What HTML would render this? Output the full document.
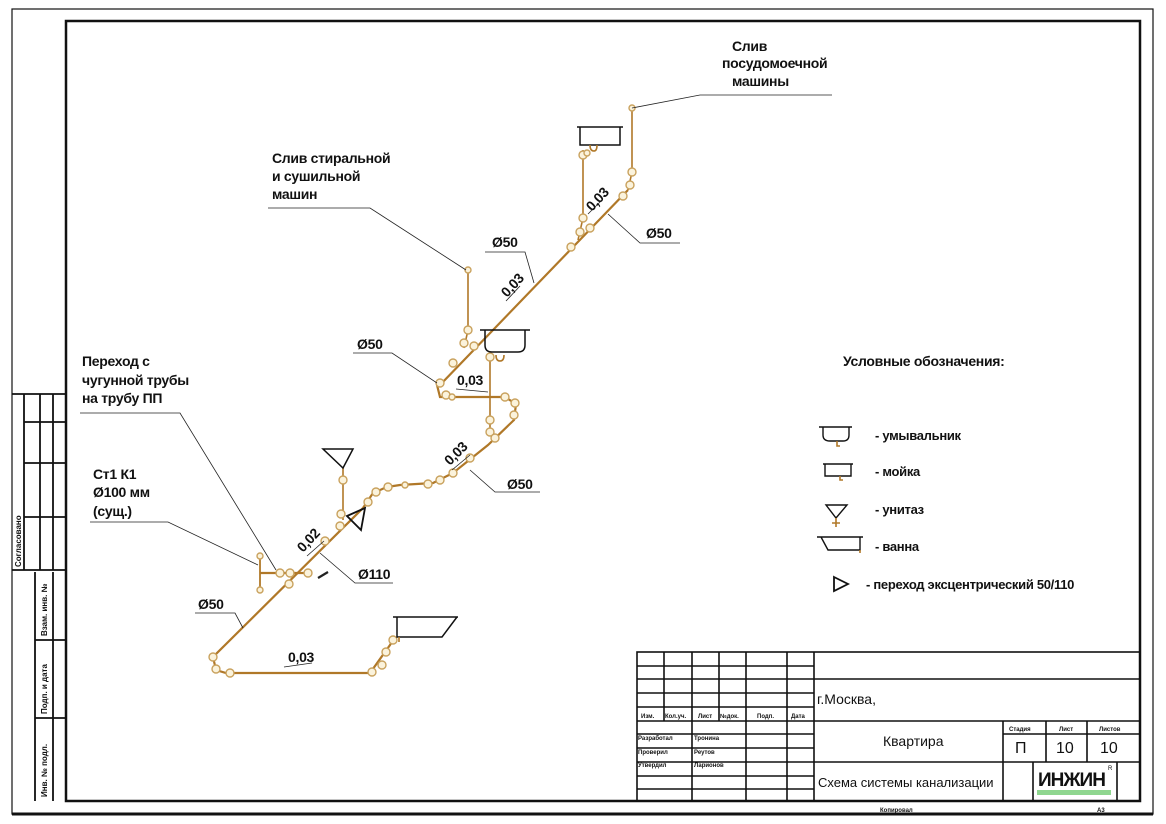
<!DOCTYPE html>
<html><head><meta charset="utf-8"><style>
html,body{margin:0;padding:0;background:#fff}
svg{display:block}
text{font-family:"Liberation Sans",sans-serif;fill:#111}
.l{font-size:14px;font-weight:bold;letter-spacing:-0.3px}
.s{font-size:6px;font-weight:bold}
.p{stroke:#b07828;stroke-width:2.2;fill:none}
.pt{stroke:#b07828;stroke-width:1.6;fill:none}
.f{fill:#fbf3dc;stroke:#c9a25e;stroke-width:1.4}
.ld{stroke:#222;stroke-width:0.8;fill:none}
.k{stroke:#111;fill:none}
</style></head><body>
<svg width="1166" height="824" viewBox="0 0 1166 824" xmlns="http://www.w3.org/2000/svg">
<rect x="12" y="9" width="1141" height="805" fill="none" stroke="#111" stroke-width="1.2"/>
<line x1="12" y1="814" x2="1153" y2="814" stroke="#111" stroke-width="3"/>
<rect x="66" y="21" width="1074" height="780" fill="none" stroke="#111" stroke-width="2.5"/>

<g class="k" stroke-width="1.8">
<line x1="12" y1="394" x2="66" y2="394"/>
<line x1="24" y1="394" x2="24" y2="570"/>
<line x1="40" y1="394" x2="40" y2="570"/>
<line x1="53" y1="394" x2="53" y2="570"/>
<line x1="24" y1="422" x2="66" y2="422"/>
<line x1="24" y1="463" x2="66" y2="463"/>
<line x1="24" y1="517" x2="66" y2="517"/>
<line x1="12" y1="570" x2="66" y2="570"/>
<line x1="35" y1="572" x2="35" y2="801"/>
<line x1="53" y1="572" x2="53" y2="801"/>
<line x1="35" y1="640" x2="66" y2="640"/>
<line x1="35" y1="718" x2="66" y2="718"/>
</g>
<text class="s" style="font-size:8px" transform="translate(21,567) rotate(-90)">Согласовано</text>
<text class="s" style="font-size:8px" transform="translate(47,636) rotate(-90)">Взам. инв. №</text>
<text class="s" style="font-size:8px" transform="translate(47,714) rotate(-90)">Подп. и дата</text>
<text class="s" style="font-size:8px" transform="translate(47,797) rotate(-90)">Инв. № подл.</text>

<g class="k" stroke-width="1.6">
<rect x="637" y="652" width="503" height="149"/>
<line x1="664" y1="652" x2="664" y2="721"/>
<line x1="692" y1="652" x2="692" y2="801"/>
<line x1="719" y1="652" x2="719" y2="721"/>
<line x1="746" y1="652" x2="746" y2="801"/>
<line x1="787" y1="652" x2="787" y2="801"/>
<line x1="814" y1="652" x2="814" y2="801"/>
<line x1="637" y1="666" x2="814" y2="666"/>
<line x1="637" y1="679" x2="1140" y2="679"/>
<line x1="637" y1="693" x2="814" y2="693"/>
<line x1="637" y1="707" x2="814" y2="707"/>
<line x1="637" y1="721" x2="1140" y2="721"/>
<line x1="637" y1="734" x2="814" y2="734"/>
<line x1="637" y1="748" x2="814" y2="748"/>
<line x1="637" y1="762" x2="1140" y2="762"/>
<line x1="637" y1="776" x2="814" y2="776"/>
<line x1="637" y1="789" x2="814" y2="789"/>
<line x1="1003" y1="721" x2="1003" y2="801"/>
<line x1="1046" y1="721" x2="1046" y2="762"/>
<line x1="1087" y1="721" x2="1087" y2="762"/>
<line x1="1003" y1="734" x2="1140" y2="734"/>
<line x1="1033" y1="762" x2="1033" y2="801"/>
<line x1="1117" y1="762" x2="1117" y2="801"/>
</g>
<g class="s">
<text x="641" y="718">Изм.</text><text x="665" y="718">Кол.уч.</text><text x="698" y="718">Лист</text><text x="720" y="718">№док.</text><text x="757" y="718">Подп.</text><text x="791" y="718">Дата</text>
<text x="638" y="740">Разработал</text><text x="694" y="740">Тронина</text>
<text x="638" y="754">Проверил</text><text x="694" y="754">Реутов</text>
<text x="638" y="767">Утвердил</text><text x="694" y="767">Ларионов</text>
<text x="1009" y="731">Стадия</text><text x="1059" y="731">Лист</text><text x="1099" y="731">Листов</text>
<text x="880" y="812">Копировал</text><text x="1097" y="812">А3</text>
</g>
<text x="817" y="704" style="font-size:14px">г.Москва,</text>
<text x="883" y="746" style="font-size:14px">Квартира</text>
<text x="818" y="787" style="font-size:13px">Схема системы канализации</text>
<text x="1015" y="753" style="font-size:16px">П</text>
<text x="1056" y="753" style="font-size:16px">10</text>
<text x="1100" y="753" style="font-size:16px">10</text>
<text x="1038" y="786" style="font-size:19px;font-weight:bold;fill:#111;letter-spacing:-1px">ИНЖИН</text>
<rect x="1037" y="790" width="74" height="5" fill="#4b4" opacity="0.6"/>
<text x="1108" y="770" style="font-size:6px">R</text>

<g class="p">
<polyline class="pt" points="632,108 632,172 628,190"/>
<polyline points="628,190 440,385"/>
<polyline class="pt" points="583,150 583,218 578,240"/>
<polyline class="pt" points="468,270 468,330 464,348"/>
<polyline class="pt" points="490,352 490,430"/>
<polyline points="437,385 440,397 505,397 516,404 514,420 488,445 453,473 433,483 400,485 387,487 373,493 363,508 213,657 216,670 226,673 370,673 390,645 395,637"/>
<polyline class="pt" points="343,467 343,520"/>
<polyline points="260,573 312,573"/>
<line x1="260" y1="555" x2="260" y2="590" stroke-width="1.8"/>
<polyline points="318,578 328,572" style="stroke:#222"/>
</g>
<g class="f">
<circle cx="632" cy="108" r="3"/><circle cx="632" cy="172" r="4"/><circle cx="630" cy="185" r="4"/><circle cx="623" cy="196" r="4"/>
<circle cx="583" cy="155" r="4"/><circle cx="587" cy="153" r="3"/><circle cx="583" cy="218" r="4"/><circle cx="580" cy="232" r="4"/><circle cx="590" cy="228" r="4"/>
<circle cx="571" cy="247" r="4"/><circle cx="468" cy="270" r="3"/><circle cx="468" cy="330" r="4"/><circle cx="464" cy="343" r="4"/><circle cx="474" cy="346" r="4"/>
<circle cx="453" cy="363" r="4"/><circle cx="490" cy="357" r="4"/><circle cx="440" cy="383" r="4"/><circle cx="446" cy="395" r="4"/>
<circle cx="452" cy="397" r="3"/><circle cx="505" cy="397" r="4"/><circle cx="515" cy="403" r="4"/><circle cx="514" cy="415" r="4"/>
<circle cx="490" cy="420" r="4"/><circle cx="490" cy="432" r="4"/><circle cx="495" cy="438" r="4"/><circle cx="470" cy="458" r="4"/>
<circle cx="453" cy="473" r="4"/><circle cx="440" cy="480" r="4"/><circle cx="428" cy="484" r="4"/><circle cx="405" cy="485" r="3"/>
<circle cx="388" cy="487" r="4"/><circle cx="376" cy="492" r="4"/><circle cx="368" cy="502" r="4"/>
<circle cx="343" cy="480" r="4"/><circle cx="341" cy="514" r="4"/><circle cx="340" cy="526" r="4"/><circle cx="325" cy="541" r="4"/>
<circle cx="280" cy="573" r="4"/><circle cx="290" cy="573" r="4"/><circle cx="308" cy="573" r="4"/><circle cx="289" cy="584" r="4"/>
<circle cx="260" cy="556" r="3"/><circle cx="260" cy="590" r="3"/>
<circle cx="213" cy="657" r="4"/><circle cx="216" cy="669" r="4"/><circle cx="230" cy="673" r="4"/>
<circle cx="372" cy="672" r="4"/><circle cx="382" cy="665" r="4"/><circle cx="386" cy="652" r="4"/><circle cx="393" cy="640" r="4"/>
</g>

<g class="k" stroke-width="1.5">
<path d="M577,127 H623 M580,127 V145 H620 V127"/>
<path d="M480,330 H530 M485,330 V345 Q485,352 492,352 H518 Q525,352 525,345 V330"/>
<path d="M393,617 H458 M397,617 V637 H442 L457,617"/>
<path d="M323,449 H353 L343,468 Z"/>
<path d="M347,516 L365,508 L361,530 Z" stroke-width="1.8"/>
</g>
<path d="M496,355 q0,6 4,6 q4,0 4,-6 M590,145 q0,6 4,6 q3,0 3,-6 M399,637 v5" class="pt"/>

<g class="ld">
<polyline points="632,108 700,95 832,95"/>
<polyline points="268,208 370,208 466,270"/>
<polyline points="680,243 640,243 608,214"/>
<polyline points="485,252 525,252 534,283"/>
<polyline points="353,353 392,353 437,383"/>
<polyline points="540,492 495,492 470,470"/>
<polyline points="80,413 180,413 276,570"/>
<polyline points="90,522 168,522 258,565"/>
<polyline points="393,583 355,583 320,553"/>
<polyline points="195,613 235,613 243,628"/>
<polyline points="456,389 488,392"/>
<polyline points="284,667 312,663"/>
<line x1="506" y1="301" x2="520" y2="286"/>
<line x1="588" y1="214" x2="602" y2="200"/>
<line x1="452" y1="470" x2="470" y2="455"/>
<line x1="307" y1="556" x2="324" y2="541"/>
</g>

<g class="l">
<text x="732" y="51">Слив</text>
<text x="722" y="68">посудомоечной</text>
<text x="732" y="86">машины</text>
<text x="272" y="163">Слив стиральной</text>
<text x="272" y="181">и сушильной</text>
<text x="272" y="199">машин</text>
<text x="646" y="238">Ø50</text>
<text x="492" y="247">Ø50</text>
<text x="357" y="349">Ø50</text>
<text x="457" y="385">0,03</text>
<text x="507" y="489">Ø50</text>
<text x="82" y="366">Переход с</text>
<text x="82" y="385">чугунной трубы</text>
<text x="82" y="403">на трубу ПП</text>
<text x="93" y="479">Ст1 К1</text>
<text x="93" y="497">Ø100 мм</text>
<text x="93" y="516">(сущ.)</text>
<text x="358" y="579">Ø110</text>
<text x="198" y="609">Ø50</text>
<text x="288" y="662">0,03</text>
<text transform="translate(507,298) rotate(-47)">0,03</text>
<text transform="translate(592,212) rotate(-47)">0,03</text>
<text transform="translate(450,466) rotate(-45)">0,03</text>
<text transform="translate(303,553) rotate(-47)">0,02</text>
<text x="843" y="366">Условные обозначения:</text>
</g>

<g class="k" stroke-width="1.4">
<path d="M819,427 H852 M823,427 V435 Q823,441 830,441 H843 Q849,441 849,435 V427"/>
<path d="M823,464 H853 M825,464 V476 H851 V464"/>
<path d="M817,537 H863 M821,537 L828,550 H860 V537"/>
<path d="M826,505 H847 L836,518 Z"/>
<path d="M834,577 L848,584 L834,591 Z" stroke-width="1.8"/>
</g>
<path d="M837,441 v5 h3 M840,476 v4 h3 M836,518 v9 M832,523 h8 M860,550 v3" class="pt"/>
<g class="l" style="font-size:13px">
<text x="875" y="440">- умывальник</text>
<text x="875" y="476">- мойка</text>
<text x="875" y="514">- унитаз</text>
<text x="875" y="551">- ванна</text>
<text x="866" y="589">- переход эксцентрический  50/110</text>
</g>
</svg>
</body></html>
